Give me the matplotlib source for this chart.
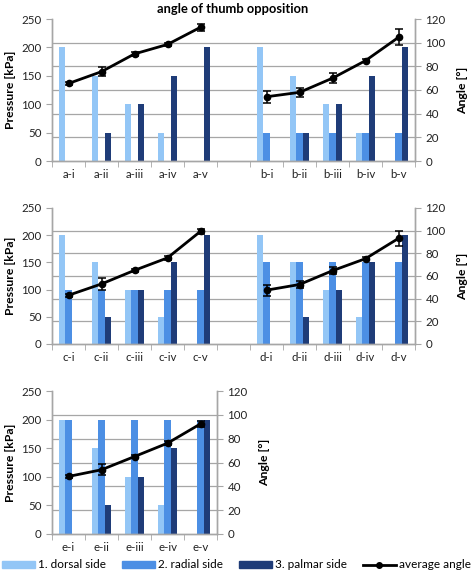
import numpy as np
import matplotlib
matplotlib.use("Agg")
import matplotlib.pyplot as plt
from matplotlib.patches import Patch
from matplotlib.lines import Line2D
from matplotlib.ticker import FixedLocator

plt.rcParams['font.family'] = ['Lato', 'DejaVu Sans']

# ---------------- data ----------------
steps = ["i", "ii", "iii", "iv", "v"]

dorsal = [200, 150, 100, 50, 0]
palmar = [0, 50, 100, 150, 200]
radial_a = [0, 0, 0, 0, 0]
radial_b = [50, 50, 50, 50, 50]
radial_c = [100, 100, 100, 100, 100]
radial_d = [150, 150, 150, 150, 150]
radial_e = [200, 200, 200, 200, 200]

angle_a = [65.5, 75.5, 90.5, 98.5, 113]
err_a = [1.5, 4, 1.5, 1.5, 3]
angle_b = [54.3, 58, 70, 84.8, 104.5]
err_b = [5, 3.5, 4.3, 1.2, 6.7]
angle_c = [43, 53, 65, 76, 99.4]
err_c = [1.5, 5, 1.5, 1.5, 2.5]
angle_d = [47.5, 52.5, 64.7, 75.3, 93.2]
err_d = [5, 3, 3, 1.2, 6.5]
angle_e = [48.3, 53.9, 65, 76.2, 92.4]
err_e = [1.5, 4.5, 1.2, 1.5, 2.5]

c_dorsal = "#93C6F6"
c_radial = "#4C8FE4"
c_palmar = "#1F3C78"
grid_c = "#A6A6A6"

FS = 8.3

fig = plt.figure(figsize=(4.73, 5.75), dpi=100)


def make_panel(rect, groups):
    ax = fig.add_axes(rect)
    ax2 = ax.twinx()
    ncat = len(groups) * 5 + (len(groups) - 1)
    labels = []
    xpos_all = []
    for gi, (name, rad, ang, err) in enumerate(groups):
        x0 = gi * 6
        xs = np.arange(5) + x0
        xpos_all.extend(xs)
        labels.extend([f"{name}-{s}" for s in steps])
        w = 0.185
        ax.bar(xs - 0.205, dorsal, w, color=c_dorsal, zorder=2)
        ax.bar(xs, rad, w, color=c_radial, zorder=2)
        ax.bar(xs + 0.205, palmar, w, color=c_palmar, zorder=2)
        ax2.errorbar(xs, ang, yerr=err, fmt='-o', color='black', lw=2.0,
                     ms=4.5, capsize=2.8, elinewidth=1.1, capthick=1.1, zorder=5)
    ax.set_xlim(-0.5, ncat - 0.5)
    ax.set_ylim(0, 250)
    ax2.set_ylim(0, 120)
    ax.set_yticks([0, 50, 100, 150, 200, 250])
    ax2.set_yticks([0, 20, 40, 60, 80, 100, 120])
    # gridlines at the angle ticks, drawn behind the bars
    ax.yaxis.set_minor_locator(FixedLocator([a * 250 / 120 for a in [20, 40, 60, 80, 100, 120]]))
    ax.grid(which='minor', axis='y', color=grid_c, lw=0.9, zorder=0)
    ax.tick_params(axis='y', which='minor', length=0)
    ax.set_axisbelow(True)
    # x axis: labels at centers, tick marks at boundaries
    ax.set_xticks(xpos_all)
    ax.set_xticklabels(labels, fontsize=FS, color="#222222")
    ax.tick_params(axis='x', which='major', length=0, pad=6)
    ax.xaxis.set_minor_locator(FixedLocator(np.arange(-0.5, ncat, 1.0)))
    ax.tick_params(axis='x', which='minor', length=4, color=grid_c, direction='out')
    ax.tick_params(axis='y', which='major', length=4, color=grid_c, labelsize=FS,
                   labelcolor="#222222")
    ax2.tick_params(axis='y', length=4, color=grid_c, labelsize=FS, labelcolor="#222222")
    for a in (ax, ax2):
        a.spines['top'].set_visible(False)
        for s in ('left', 'right', 'bottom'):
            a.spines[s].set_color(grid_c)
            a.spines[s].set_linewidth(1.0)
    ax.set_ylabel("Pressure [kPa]", fontsize=FS + 0.5, fontweight='bold', labelpad=4)
    ax2.set_ylabel("Angle [°]", fontsize=FS + 0.5, fontweight='bold', labelpad=8)
    return ax, ax2


make_panel([52 / 473, 1 - 161 / 575, 363 / 473, 142 / 575],
           [("a", radial_a, angle_a, err_a), ("b", radial_b, angle_b, err_b)])
make_panel([52 / 473, 1 - 344 / 575, 363 / 473, 136 / 575],
           [("c", radial_c, angle_c, err_c), ("d", radial_d, angle_d, err_d)])
make_panel([52 / 473, 1 - 534 / 575, 165 / 473, 143 / 575],
           [("e", radial_e, angle_e, err_e)])

fig.text(233 / 473, 1 - 9 / 575, "angle of thumb opposition", ha='center', va='center',
         fontsize=9.3, fontweight='bold')

handles = [Patch(color=c_dorsal), Patch(color=c_radial), Patch(color=c_palmar),
           Line2D([0], [0], color='black', lw=2, marker='o', ms=4)]
leg_labels = ["1. dorsal side", "2. radial side", "3. palmar side", "average angle"]
fig.legend(handles, leg_labels, loc='center', bbox_to_anchor=(0.5, 1 - 565 / 575), ncol=4,
           frameon=False, fontsize=8.5, handlelength=2.8, handleheight=0.6,
           handletextpad=0.3, columnspacing=1.3, borderaxespad=0)

fig.savefig("out.png", dpi=100)
